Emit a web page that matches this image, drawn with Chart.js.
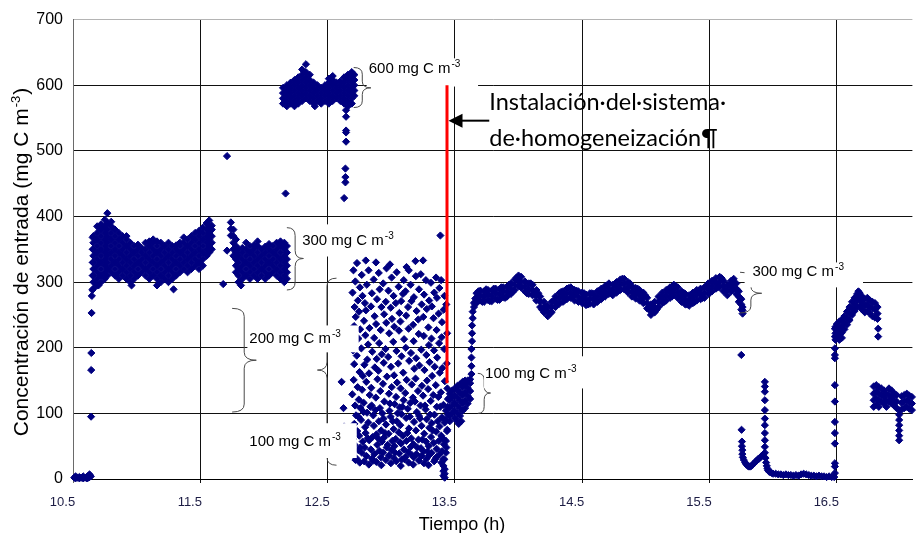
<!DOCTYPE html>
<html><head><meta charset="utf-8">
<script src="https://cdn.jsdelivr.net/npm/chart.js@4.4.1/dist/chart.umd.min.js"></script>
<style>html,body{margin:0;padding:0;background:#fff;overflow:hidden}canvas{display:block}</style>
</head><body>
<canvas id="c" width="917" height="533" style="width:917px;height:533px"></canvas>
<script>
// ---------- axis ticks ----------
const xTicks = [10.5, 11.5, 12.5, 13.5, 14.5, 15.5, 16.5];
const yTicks = [0, 100, 200, 300, 400, 500, 600, 700];

// ---------- data: each entry = [time (h), concentration readings (mg C m-3) at that time] ----------
const baseline = [
 [10.51,2],[10.52,1,4],[10.535,2],[10.55,1,3],[10.565,2],[10.58,1,4],[10.595,2],[10.61,3,1],[10.62,2,5],[10.63,3,7],[10.64,4]
];
const rise = [
 [10.642,95],[10.643,166],[10.644,192],[10.646,253],[10.648,279],[10.652,288],[10.655,310,330,350,368],[10.70,295]
];
const block300a = [
 [10.66,290,300,310,320,330,340,350,360,370],
 [10.69,295,305,315,325,335,345,355,365,375,385],
 [10.72,300,310,320,330,340,350,360,370,380,388],
 [10.75,305,315,325,335,345,355,365,375,385,395],
 [10.77,310,320,330,340,350,360,370,380,390,405],
 [10.80,315,325,335,345,355,365,375,385,392],
 [10.83,310,320,330,340,350,360,370,380],
 [10.86,305,315,325,335,345,355,365,375],
 [10.89,310,320,330,340,350,360,370],
 [10.92,305,315,325,335,345,355,365,370],
 [10.95,300,310,320,330,340,350,360],
 [10.96,295],
 [10.98,305,315,325,335,345,355],
 [11.01,310,320,330,340,350,357],
 [11.04,315,325,335,345,352],
 [11.07,310,320,330,340,350,360],
 [11.10,305,315,325,335,345,355,362],
 [11.13,310,320,330,340,350,360,365],
 [11.16,295,305,315,325,335,345,355,362],
 [11.19,300,310,320,330,340,350,360],
 [11.22,305,315,325,335,345,355],
 [11.25,300,310,320,330,340,350,360],
 [11.28,305,315,325,335,345,355],
 [11.29,289],
 [11.31,310,320,330,340,350,356],
 [11.34,315,325,335,345,355,360],
 [11.37,320,330,340,350,360,368],
 [11.40,315,325,335,345,355,365],
 [11.43,320,330,340,350,360,370],
 [11.46,325,335,345,355,365,375],
 [11.49,320,330,340,350,360,370,378],
 [11.52,325,335,345,355,365,375,383],
 [11.55,340,350,360,370,380,390],
 [11.57,345,355,365,375,385,394],
 [11.59,350,360,370,380,386]
];
const block300b = [
 [11.68,297],[11.71,348],[11.71,492],[11.82,295],[12.17,435],
 [11.74,391,381,371],[11.76,380,370,360,350,340],[11.78,365,355,345,335,325,315],[11.80,350,340,330,320,310,300],
 [11.83,305,315,325,335,345,352],
 [11.86,310,320,330,340,350,360],
 [11.89,305,315,325,335,345,355],
 [11.92,310,320,330,340,350,356],
 [11.95,305,315,325,335,345,355,362],
 [11.98,310,320,330,340,350],
 [12.01,305,315,325,335,345,354],
 [12.04,310,320,330,340,350,358],
 [12.07,315,325,335,345,355],
 [12.10,310,320,330,340,350,360],
 [12.13,305,315,325,335,345,355,362],
 [12.16,300,310,320,330,340,350,360],
 [12.18,305,315,325,335,345,355]
];
const block600 = [
 [12.15,572,580,588,596],[12.18,568,576,584,592,600],[12.21,572,580,588,596,604],
 [12.24,568,576,584,592,600,608],[12.27,572,580,588,596,604,612],[12.30,576,584,592,600,608,616,624],
 [12.33,580,588,596,604,612,620,632],[12.36,576,584,592,600,608,616],[12.39,572,580,588,596,604],
 [12.40,568],[12.42,576,584,592,600],[12.45,572,580,588,596],[12.48,576,584,592,600],
 [12.51,572,580,588,596,604,610],[12.54,576,584,592,600,608,614],[12.57,580,588,596,604],
 [12.60,576,584,592,600,606],[12.63,572,580,588,596,604,612],[12.66,568,576,584,592,600,608,616],
 [12.69,572,580,588,596,604,612,620],[12.71,584,592,600,608,616],
 [12.645,562,552,531,528,514],[12.64,473,460,452],[12.63,428]
];
const mixed = [
 [12.61,148],[12.625,108],[12.63,80],
 [12.80,333],[12.87,380],[12.88,330],[12.99,327],[13.12,323],[13.19,332],[13.25,333],[13.386,371],
 [12.703,318],[12.696,284],[12.708,233],[12.699,196],[12.705,151],[12.694,129],[12.71,84],[12.701,61],[12.697,38],
 [12.718,301],[12.712,262],[12.721,247],[12.709,175],[12.716,112],[12.724,97],[12.713,52],[12.719,29],
 [12.731,329],[12.738,272],[12.742,214],[12.729,188],[12.736,140],[12.733,73],[12.741,44],[12.728,31],
 [12.754,292],[12.747,255],[12.756,228],[12.751,163],[12.745,121],[12.758,108],[12.749,66],[12.753,25],
 [12.768,311],[12.774,279],[12.765,199],[12.777,157],[12.771,136],[12.763,90],[12.776,57],[12.769,40],
 [12.793,268],[12.786,241],[12.797,219],[12.789,174],[12.784,116],[12.795,79],[12.791,48],[12.787,27],
 [12.808,296],[12.801,257],[12.812,182],[12.804,148],[12.81,101],[12.799,70],[12.806,35],
 [12.822,318],[12.829,230],[12.818,205],[12.826,161],[12.831,128],[12.82,86],[12.827,59],[12.824,22],
 [12.848,283],[12.841,263],[12.851,194],[12.843,139],[12.846,112],[12.853,64],[12.84,45],[12.849,31],
 [12.862,304],[12.869,248],[12.866,215],[12.871,170],[12.859,97],[12.864,81],[12.868,38],
 [12.888,274],[12.881,236],[12.886,183],[12.892,152],[12.879,124],[12.884,68],[12.89,52],[12.883,26],
 [12.902,314],[12.909,289],[12.905,207],[12.899,165],[12.911,108],[12.903,88],[12.907,43],
 [12.923,262],[12.917,227],[12.925,190],[12.914,134],[12.921,74],[12.926,57],[12.918,33],[12.922,21],
 [12.937,298],[12.944,251],[12.941,177],[12.935,145],[12.946,118],[12.939,92],[12.943,63],[12.936,40],
 [12.963,321],[12.957,270],[12.961,238],[12.955,198],[12.966,156],[12.959,83],[12.964,48],[12.958,29],
 [12.978,287],[12.984,222],[12.976,186],[12.982,130],[12.986,104],[12.979,69],[12.983,36],
 [13.003,307],[12.996,261],[13.006,244],[12.998,171],[13.004,140],[12.995,95],[13.008,58],[13.001,44],[12.997,24],
 [13.018,279],[13.024,232],[13.016,209],[13.022,158],[13.027,114],[13.019,76],[13.025,50],[13.021,32],
 [13.043,315],[13.036,268],[13.041,195],[13.046,147],[13.038,125],[13.044,88],[13.035,61],[13.04,27],
 [13.058,293],[13.064,253],[13.061,226],[13.055,176],[13.066,109],[13.059,71],[13.063,39],
 [13.078,271],[13.072,240],[13.081,187],[13.074,138],[13.079,99],[13.071,82],[13.077,54],[13.083,30],[13.075,20],
 [13.098,303],[13.092,282],[13.101,213],[13.094,162],[13.097,120],[13.09,66],[13.1,45],
 [13.112,286],[13.118,249],[13.114,200],[13.121,151],[13.11,131],[13.117,93],[13.119,58],[13.113,34],
 [13.138,318],[13.132,262],[13.136,229],[13.141,180],[13.13,107],[13.139,77],[13.134,41],[13.137,25],
 [13.152,296],[13.159,271],[13.155,192],[13.161,144],[13.15,116],[13.157,62],[13.153,49],
 [13.178,277],[13.172,235],[13.176,210],[13.181,168],[13.17,124],[13.179,87],[13.174,53],[13.177,33],[13.173,22],
 [13.193,309],[13.199,256],[13.196,184],[13.191,153],[13.201,102],[13.194,74],[13.197,38],
 [13.218,289],[13.212,243],[13.216,221],[13.221,173],[13.21,134],[13.219,96],[13.214,60],[13.217,28],
 [13.232,312],[13.239,266],[13.236,197],[13.241,142],[13.23,112],[13.238,81],[13.233,47],[13.237,35],
 [13.258,281],[13.252,247],[13.256,218],[13.261,166],[13.25,127],[13.259,69],[13.254,42],[13.257,24],
 [13.272,303],[13.279,259],[13.276,189],[13.281,150],[13.27,106],[13.278,91],[13.273,57],[13.277,31],
 [13.298,272],[13.292,231],[13.296,204],[13.301,178],[13.29,137],[13.299,78],[13.294,50],[13.297,36],[13.293,21],
 [13.312,299],[13.319,263],[13.316,214],[13.321,157],[13.31,119],[13.318,85],[13.313,64],[13.317,40],
 [13.338,284],[13.332,245],[13.336,196],[13.341,171],[13.33,128],[13.339,98],[13.334,55],[13.337,27],
 [13.352,307],[13.359,276],[13.356,227],[13.361,185],[13.35,143],[13.358,110],[13.353,72],[13.357,46],[13.354,33],
 [13.378,291],[13.372,252],[13.376,207],[13.381,162],[13.37,125],[13.379,80],[13.374,58],[13.377,37],
 [13.392,303],[13.399,239],[13.396,216],[13.401,169],[13.39,132],[13.398,94],[13.393,66],[13.397,42],[13.394,25],
 [13.418,279],[13.412,258],[13.416,198],[13.421,149],[13.41,113],[13.419,86],[13.414,53],[13.417,30],
 [13.432,266],[13.439,222],[13.436,176],[13.441,138],[13.43,104],[13.438,73],[13.433,48],
 [12.742,95],[12.757,48],[12.783,102],[12.815,62],[12.836,110],[12.858,28],[12.875,105],[12.897,62],[12.93,100],
 [12.951,70],[12.972,52],[12.99,115],[13.012,88],[13.03,40],[13.05,100],[13.068,56],[13.087,110],[13.105,30],
 [13.126,70],[13.146,95],[13.165,36],[13.186,118],[13.205,48],[13.226,92],[13.245,60],[13.265,112],[13.285,42],
 [13.305,98],[13.325,74],[13.345,30],[13.365,88],[13.385,110],[13.405,62],[13.425,90]
];
const block100 = [
 [13.41,30,20,12,5],[13.42,8,15,2],[13.43,40,58],[13.44,75],[13.46,88],
 [13.445,98,110,122],[13.46,96,108,120,130],[13.48,100,112,124,135],[13.50,92,104,116,128,138],
 [13.52,88,100,112,124,136,142],[13.53,84],[13.54,96,108,120,132,144],[13.55,88],
 [13.56,104,116,128,140,148],[13.58,108,120,132,144,150],[13.60,115,127,139,150],[13.62,122,134,146,152],
 [13.63,160,172,185,198],[13.635,210,222,234],[13.64,245,255],[13.65,262,268],[13.66,270,275]
];
const plateau = [
 [13.67,268,276,283],[13.685,286],[13.70,272,280,287],[13.715,270],[13.73,270,278,286],[13.745,289],[13.76,273,281,288],[13.775,271],
 [13.79,271,279,287],[13.805,290],[13.82,275,283,290],[13.835,273],[13.85,273,281,289],[13.865,292],[13.88,277,285,292],[13.895,276],
 [13.91,278,286,293],[13.925,296],[13.94,282,290,298],[13.955,285],[13.97,288,296,304],[13.985,307],[14.00,294,302,310],[14.015,293],
 [14.02,292,300,308],[14.05,286,294,301],[14.065,283],[14.08,282,290,298],[14.095,298],[14.11,280,288,296],[14.125,281],
 [14.14,272,280,288],[14.155,283],[14.17,262,270,278],[14.185,258],[14.20,254,262,270],[14.215,263],[14.23,248,256,264],[14.245,252],
 [14.26,254,262,270],[14.275,271],[14.29,262,270,278],[14.305,266],[14.32,267,275,283],[14.335,285],[14.35,270,278,286],[14.365,273],
 [14.38,274,282,290],[14.395,291],[14.41,276,284,292],[14.425,279],[14.44,272,280,288],[14.455,287],[14.47,270,278,286],[14.485,271],
 [14.50,268,276,284],[14.515,283],[14.53,265,273,281],[14.545,266],[14.56,267,275,283],[14.575,283],[14.59,266,274,282],[14.605,270],
 [14.62,270,278,286],[14.635,287],[14.65,274,282,290],[14.665,277],[14.68,278,286,294],[14.695,295],[14.71,282,290,298],[14.725,284],
 [14.74,280,288,296],[14.755,297],[14.77,284,292,300],[14.785,287],[14.80,288,296,304],[14.815,305],[14.83,289,297,305],[14.845,288],
 [14.86,284,292,300],[14.875,298],[14.89,278,286,294],[14.905,279],[14.92,275,283,291],[14.935,290],[14.95,272,280,288],[14.965,272],
 [14.98,268,276,284],[14.995,280],[15.01,260,268,276],[15.025,258],[15.04,250,258,266],[15.055,262],[15.07,254,262,270],[15.085,258],
 [15.10,262,270,278],[15.115,277],[15.13,268,276,284],[15.145,270],[15.16,272,280,288],[15.175,288],[15.19,276,284,292],[15.205,278],
 [15.22,280,288,296],[15.235,294],[15.25,276,284,292],[15.265,278],[15.28,270,278,286],[15.295,284],[15.31,266,274,282],[15.325,266],
 [15.34,264,272,280],[15.355,279],[15.37,268,276,284],[15.385,270],[15.40,272,280,288],[15.415,287],[15.43,274,282,290],[15.445,276],
 [15.46,276,284,292],[15.475,293],[15.49,282,290,298],[15.505,284],[15.52,286,294,302],[15.535,302],[15.55,290,298,306],[15.565,292],
 [15.58,292,300,308],[15.595,306],[15.61,286,294,302],[15.625,287],[15.64,280,288,296],[15.655,295],[15.67,286,294,302],[15.68,302],
 [15.69,290,298,305],[15.71,282,290,298],[15.72,288],[15.73,270,278,286],[15.74,276],[15.75,258,266,274],[15.76,252,257,262]
];
const tail = [
 [15.75,189],[15.752,75],[15.755,57,50],[15.758,44,38],[15.762,33],[15.77,29],[15.78,25],[15.79,22],[15.80,20],
 [15.81,19],[15.82,19],[15.83,20],[15.84,22],[15.85,24],[15.86,26],[15.87,28],[15.88,30],[15.89,31],[15.90,33],
 [15.91,35],[15.92,37],
 [15.935,148,141,133,120,105,92,82,70,59,49,40],
 [15.94,32],[15.945,25],[15.95,20],[15.955,16],[15.96,13],[15.97,11],[15.98,10],[15.99,9],[16.00,8],[16.02,8],
 [16.04,7],[16.06,7],[16.08,6],[16.10,7],[16.12,6],[16.14,6],[16.16,5],[16.18,6],[16.20,5],[16.22,7],[16.24,8],
 [16.26,7],[16.28,6],[16.30,5],[16.32,5],[16.34,4],[16.36,5],[16.38,4],[16.40,4],[16.42,3],[16.44,4],[16.46,3],[16.48,3]
];
const recovery = [
 [16.485,9,19,24,54,70,87,118,143,184,189,199,217,229],
 [16.49,232,222,212],[16.50,236,226,216],[16.52,240,230,220,212],[16.54,243,233,223,215],[16.56,248,238,228],
 [16.58,255,245,235],[16.60,262,252,242],[16.62,270,260,250],[16.64,276,266,256],[16.66,282,272,262],
 [16.67,286,276],[16.68,283,273,263],[16.70,278,268,258],[16.72,274,264,254],[16.74,276,266,256],
 [16.76,272,262,252],[16.78,270,260,248],[16.80,268,258,246],[16.82,262,252,244],[16.825,229,217],
 [16.79,141,130,120,110],[16.81,143,133,123,113],[16.83,140,130,120,110],[16.85,138,128,118],[16.87,135,125,115],
 [16.89,130,120,110],[16.91,138,128,118],[16.93,135,125,115],[16.95,130,120,112],[16.97,128,118,108],
 [16.99,105,98,90,82,74,66,59],[17.01,126,116,106],[17.03,128,118,108],[17.05,130,120,110],[17.07,127,117,107],[17.09,125,115,105]
];

// ---------- annotations (data units) ----------
// braces: [hook x, tip x, top y, bottom y, tip y]
const braces = [
 [12.705,12.84,627,566,596],
 [12.18,12.31,383,288,336],
 [11.75,11.94,260,102,181],
 [12.57,12.42,306,21,166],
 [13.68,13.78,161,100,131],
 [15.74,15.91,315,253,283]
];
// white label boxes: [x0, x1, top y, bottom y]
const labelBoxes = [
 [12.807,13.682,641,598],
 [12.276,13.041,388,339],
 [11.87,12.744,234,193],
 [11.87,12.729,85,32],
 [13.729,14.541,187,138],
 [15.776,16.706,330,292]
];
// labels: [text, superscript, x, y]
const labels = [
 ['600 mg C m','-3',12.823,618],
 ['300 mg C m','-3',12.30,356],
 ['200 mg C m','-3',11.885,207],
 ['100 mg C m','-3',11.885,50],
 ['100 mg C m','-3',13.737,154],
 ['300 mg C m','-3',15.837,309]
];
const installLine = [13.438, 600, 146];   // x, top y, bottom y
const installArrow = [13.77, 13.45, 546];  // tail x, tip x, y
const installText = [['Instalación·del·sistema·',13.77,562],['de·homogeneización¶',13.77,507]];

// ---------- build points ----------
const points = [];
[baseline, rise, block300a, block300b, block600, mixed, block100, plateau, tail, recovery].forEach(seg =>
  seg.forEach(([t, ...vals]) => vals.forEach(v => points.push({x: t, y: v}))));

const SANS = '"Liberation Sans", Arial, sans-serif';

const overlay = {
  id: 'overlay',
  afterDatasetsDraw(chart) {
    const {ctx, scales: {x, y}} = chart;
    const X = v => x.getPixelForValue(v), Y = v => y.getPixelForValue(v);
    ctx.save();
    ctx.strokeStyle = '#4a4a4a'; ctx.lineWidth = 1;
    braces.forEach(([hx, tx, ty, by, my]) => {
      const xh = X(hx), xt = X(tx), yt = Y(ty), yb = Y(by), ym = Y(my);
      const xs = (xh + xt) / 2, r = Math.min(8, (yb - yt) / 6);
      ctx.beginPath();
      ctx.moveTo(xh, yt);
      ctx.quadraticCurveTo(xs, yt, xs, yt + r);
      ctx.lineTo(xs, ym - r);
      ctx.quadraticCurveTo(xs, ym, xt, ym);
      ctx.quadraticCurveTo(xs, ym, xs, ym + r);
      ctx.lineTo(xs, yb - r);
      ctx.quadraticCurveTo(xs, yb, xh, yb);
      ctx.stroke();
    });
    ctx.fillStyle = '#fff';
    labelBoxes.forEach(([x0, x1, yt, yb]) => ctx.fillRect(X(x0), Y(yt), X(x1) - X(x0), Y(yb) - Y(yt)));
    ctx.fillStyle = '#000'; ctx.textAlign = 'left'; ctx.textBaseline = 'alphabetic';
    labels.forEach(([t, s, vx, vy]) => {
      const px = X(vx), py = Y(vy);
      ctx.font = '15px ' + SANS;
      ctx.fillText(t, px, py);
      const w = ctx.measureText(t).width;
      ctx.font = '10px ' + SANS;
      ctx.fillText(s, px + w + 1, py - 6);
    });
    ctx.strokeStyle = '#ff0000'; ctx.lineWidth = 3;
    ctx.beginPath();
    ctx.moveTo(X(installLine[0]), Y(installLine[1]));
    ctx.lineTo(X(installLine[0]), Y(installLine[2]));
    ctx.stroke();
    const ax0 = X(installArrow[0]), ax1 = X(installArrow[1]), ay = Y(installArrow[2]);
    ctx.strokeStyle = '#000'; ctx.lineWidth = 2;
    ctx.beginPath(); ctx.moveTo(ax0, ay); ctx.lineTo(ax1 + 12, ay); ctx.stroke();
    ctx.fillStyle = '#000';
    ctx.beginPath(); ctx.moveTo(ax1, ay); ctx.lineTo(ax1 + 14, ay - 7); ctx.lineTo(ax1 + 14, ay + 7); ctx.closePath(); ctx.fill();
    ctx.font = '23.5px Lato, "Noto Sans", sans-serif';
    installText.forEach(([t, vx, vy]) => ctx.fillText(t, X(vx), Y(vy)));
    ctx.restore();
  },
  afterDraw(chart) {
    const {ctx} = chart;
    ctx.save();
    ctx.fillStyle = '#000'; ctx.textBaseline = 'alphabetic';
    ctx.font = '18px ' + SANS; ctx.textAlign = 'center';
    ctx.fillText('Tiempo (h)', 462, 530);
    ctx.textAlign = 'left';
    ctx.translate(28, 262); ctx.rotate(-Math.PI / 2);
    const t1 = 'Concentración de entrada (mg C m', t2 = '-3', t3 = ')';
    const f1 = '21px ' + SANS, f2 = '13px ' + SANS;
    ctx.font = f1; const w1 = ctx.measureText(t1).width, w3 = ctx.measureText(t3).width;
    ctx.font = f2; const w2 = ctx.measureText(t2).width;
    let sx = -(w1 + w2 + w3 + 2) / 2;
    ctx.font = f1; ctx.fillText(t1, sx, 0); sx += w1 + 1;
    ctx.font = f2; ctx.fillText(t2, sx, -8); sx += w2 + 1;
    ctx.font = f1; ctx.fillText(t3, sx, 0);
    ctx.restore();
  }
};

Chart.defaults.font.family = SANS;

new Chart(document.getElementById('c'), {
  type: 'scatter',
  data: { datasets: [{
    data: points,
    pointStyle: 'rectRot', pointRadius: 3.6, pointHoverRadius: 3.6,
    backgroundColor: '#000080', borderColor: '#000080', borderWidth: 1,
    clip: false
  }]},
  options: {
    responsive: false, animation: false, devicePixelRatio: 1, events: [],
    layout: { padding: { top: 19, right: 0, bottom: 0, left: 0 } },
    plugins: { legend: { display: false }, tooltip: { enabled: false } },
    scales: {
      x: {
        type: 'linear', min: 10.5, max: 17.094,
        afterBuildTicks: s => { s.ticks = xTicks.map(v => ({ value: v })); },
        afterFit: s => { s.height = 54; },
        ticks: { labelOffset: -10.5, padding: 12, color: '#1c1c44', font: { size: 13 }, maxRotation: 0, autoSkip: false,
                 callback: v => Number(v).toFixed(1) },
        grid: { color: c => (c.tick && c.tick.value === 10.5) ? '#6a6a6a' : '#111', lineWidth: 1, tickLength: 4 },
        border: { color: '#000', width: 1 }
      },
      y: {
        min: 0, max: 700,
        afterBuildTicks: s => { s.ticks = yTicks.map(v => ({ value: v })); },
        afterFit: s => { s.width = 73; },
        ticks: { padding: 10, color: '#000', font: { size: 16 }, autoSkip: false },
        grid: { color: c => (c.tick && c.tick.value === 700) ? '#b4b4b4' : '#111', lineWidth: 1, drawTicks: false },
        border: { color: '#6a6a6a', width: 1 }
      }
    }
  },
  plugins: [overlay]
});
</script>
</body></html>
